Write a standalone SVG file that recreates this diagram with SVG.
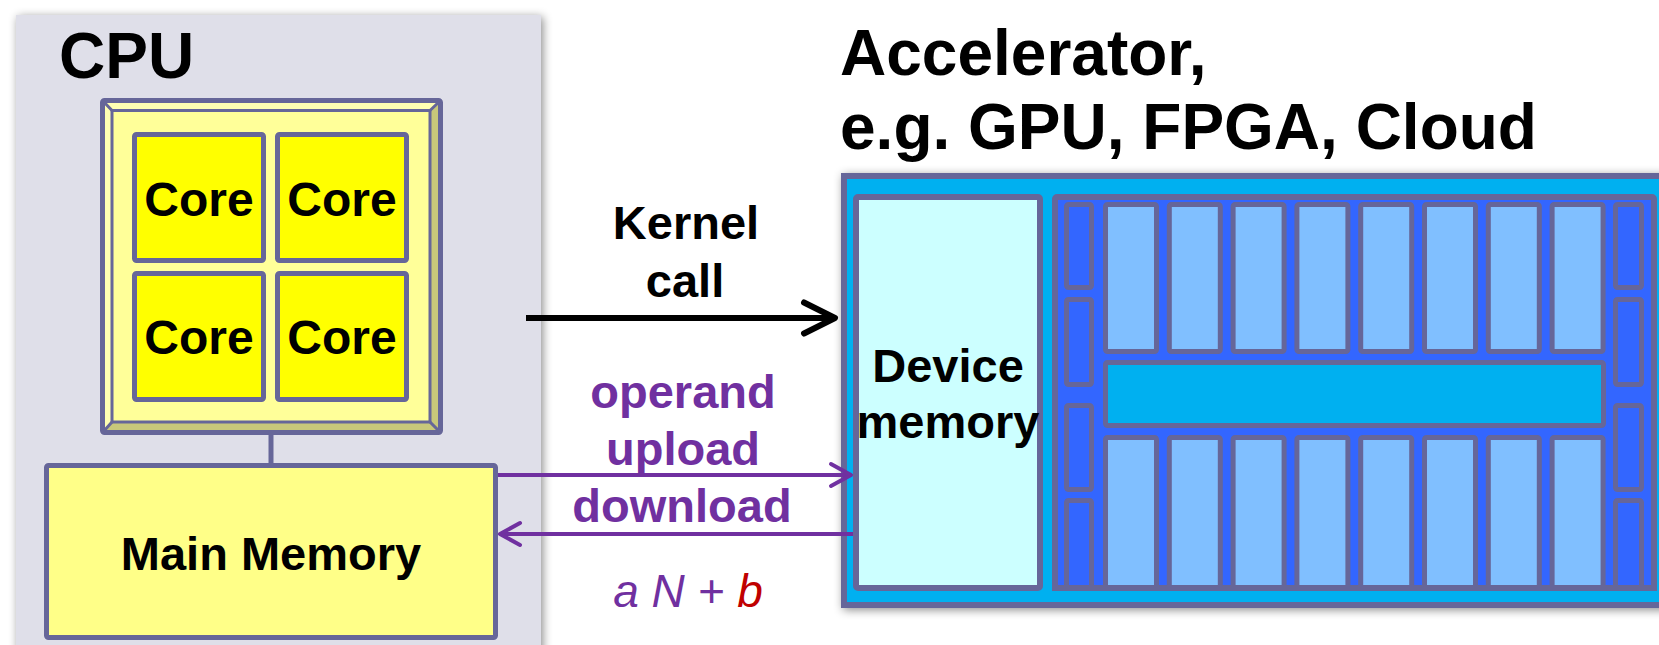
<svg xmlns="http://www.w3.org/2000/svg" width="1659" height="645" viewBox="0 0 1659 645">
<defs>
<filter id="shadow" x="-10%" y="-10%" width="120%" height="120%">
<feDropShadow dx="2" dy="2" stdDeviation="5" flood-color="#000" flood-opacity="0.45"/>
</filter>
<marker id="arrK" markerUnits="userSpaceOnUse" viewBox="-40 -20 44 40" markerWidth="44" markerHeight="40" refX="0" refY="0" orient="auto" overflow="visible">
<path d="M-31,-15.5 L0,0 L-31,15.5" fill="none" stroke="#000" stroke-width="6" stroke-linecap="round" stroke-linejoin="round"/>
</marker>
<marker id="arrP" markerUnits="userSpaceOnUse" viewBox="-30 -15 34 30" markerWidth="34" markerHeight="30" refX="0" refY="0" orient="auto" overflow="visible">
<path d="M-20,-11 L0,0 L-20,11" fill="none" stroke="#7030A0" stroke-width="4" stroke-linecap="round" stroke-linejoin="round"/>
</marker>
</defs>
<style>
text{font-family:"Liberation Sans",Arial,Helvetica,sans-serif;font-weight:bold;fill:#000}
.title{font-size:64px}
.lbl{font-size:47px}
.core{font-size:48px;text-anchor:middle}
.mid{text-anchor:middle}
.purple{fill:#7030A0}
.edge{stroke:#666699}
.corebox{fill:#FFFF00;stroke:#666699;stroke-width:5}
.col{fill:#80BFFF;stroke:#666699;stroke-width:5}
.bar{fill:#3366FF;stroke:#666699;stroke-width:5}
</style>

<g id="cpu">
<rect x="16" y="15" width="525" height="660" fill="#DFDFE9" filter="url(#shadow)"/>
<text class="title" x="59" y="78">CPU</text>
</g>

<g id="chip">
<rect x="102.5" y="100.5" width="338" height="332" fill="#FFFF99" stroke="#666699" stroke-width="5" rx="2"/>
<polygon points="105,103 438,103 430,110.5 112,110.5" fill="#FFFFB3"/>
<polygon points="105,103 112,110.5 112,422 105,430" fill="#FFFFB3"/>
<polygon points="438,103 438,430 430,422 430,110.5" fill="#C8C87A"/>
<polygon points="105,430 438,430 430,422 112,422" fill="#C8C87A"/>
<rect x="112" y="110.5" width="318" height="311.5" fill="#FFFF99" stroke="#666699" stroke-width="3"/>
<path d="M103,101 L112,110.5 M440,101 L430,110.5 M103,432 L112,422 M440,432 L430,422" stroke="#666699" stroke-width="3"/>
</g>

<g id="core1"><rect class="corebox" x="134.5" y="134.5" width="129" height="126" rx="2"/><text class="core" x="199" y="216">Core</text></g>
<g id="core2"><rect class="corebox" x="277.5" y="134.5" width="129" height="126" rx="2"/><text class="core" x="342" y="216">Core</text></g>
<g id="core3"><rect class="corebox" x="134.5" y="273.5" width="129" height="126" rx="2"/><text class="core" x="199" y="354">Core</text></g>
<g id="core4"><rect class="corebox" x="277.5" y="273.5" width="129" height="126" rx="2"/><text class="core" x="342" y="354">Core</text></g>

<g id="main-memory">
<rect x="46.5" y="465.5" width="449" height="172" fill="#FFFF88" stroke="#666699" stroke-width="5" rx="2"/>
<text class="lbl mid" x="271" y="570">Main Memory</text>
</g>

<g id="accelerator">
<rect x="844" y="176" width="840" height="429" fill="#00B0F0" stroke="#666699" stroke-width="6" filter="url(#shadow)"/>
<text class="title" x="840" y="75">Accelerator,</text>
<text class="title" x="840" y="149">e.g. GPU, FPGA, Cloud</text>
</g>

<g id="device-memory">
<rect x="856" y="197" width="184" height="391" fill="#CCFFFF" stroke="#666699" stroke-width="6" rx="2"/>
<text class="lbl mid" x="948" y="382">Device</text>
<text class="lbl mid" x="948" y="438">memory</text>
</g>

<g id="compute-array">
<rect x="1055" y="197" width="599" height="391" fill="#3366FF" stroke="#666699" stroke-width="6" rx="2"/>
<rect class="bar" x="1066.5" y="204.5" width="25" height="83" rx="2"/>
<rect class="bar" x="1066.5" y="299.5" width="25" height="85" rx="2"/>
<rect class="bar" x="1066.5" y="405.5" width="25" height="84" rx="2"/>
<rect class="bar" x="1066.5" y="500.5" width="25" height="87" rx="2"/>
<rect class="bar" x="1615.5" y="204.5" width="26" height="83" rx="2"/>
<rect class="bar" x="1615.5" y="299.5" width="26" height="85" rx="2"/>
<rect class="bar" x="1615.5" y="405.5" width="26" height="84" rx="2"/>
<rect class="bar" x="1615.5" y="500.5" width="26" height="87" rx="2"/>
<rect class="col" x="1105.5" y="204.5" width="51" height="147" rx="2"/>
<rect class="col" x="1169.3" y="204.5" width="51" height="147" rx="2"/>
<rect class="col" x="1233.1" y="204.5" width="51" height="147" rx="2"/>
<rect class="col" x="1296.9" y="204.5" width="51" height="147" rx="2"/>
<rect class="col" x="1360.7" y="204.5" width="51" height="147" rx="2"/>
<rect class="col" x="1424.5" y="204.5" width="51" height="147" rx="2"/>
<rect class="col" x="1488.3" y="204.5" width="51" height="147" rx="2"/>
<rect class="col" x="1552.1" y="204.5" width="51" height="147" rx="2"/>
<rect x="1105.5" y="362.5" width="498" height="63" fill="#00B0F0" stroke="#666699" stroke-width="5" rx="2"/>
<rect class="col" x="1105.5" y="437.5" width="51" height="150" rx="2"/>
<rect class="col" x="1169.3" y="437.5" width="51" height="150" rx="2"/>
<rect class="col" x="1233.1" y="437.5" width="51" height="150" rx="2"/>
<rect class="col" x="1296.9" y="437.5" width="51" height="150" rx="2"/>
<rect class="col" x="1360.7" y="437.5" width="51" height="150" rx="2"/>
<rect class="col" x="1424.5" y="437.5" width="51" height="150" rx="2"/>
<rect class="col" x="1488.3" y="437.5" width="51" height="150" rx="2"/>
<rect class="col" x="1552.1" y="437.5" width="51" height="150" rx="2"/>
<rect x="1052" y="585" width="605" height="6" fill="#666699"/>
</g>

<g id="connectors">
<line x1="271" y1="435" x2="271" y2="464" stroke="#666699" stroke-width="5"/>
<line x1="526" y1="318" x2="835" y2="318" stroke="#000" stroke-width="6" marker-end="url(#arrK)"/>
<line x1="498" y1="475" x2="851" y2="475" stroke="#7030A0" stroke-width="4" marker-end="url(#arrP)"/>
<line x1="853" y1="534" x2="500" y2="534" stroke="#7030A0" stroke-width="4" marker-end="url(#arrP)"/>
<text class="lbl mid" x="686" y="239">Kernel</text>
<text class="lbl mid" x="685" y="297">call</text>
<text class="lbl mid purple" x="683" y="408">operand</text>
<text class="lbl mid purple" x="683" y="465">upload</text>
<text class="lbl mid purple" x="682" y="522">download</text>
<text class="mid" x="688" y="607" style="font-weight:normal;font-style:italic;font-size:46px"><tspan fill="#7030A0">a N + </tspan><tspan fill="#C00000">b</tspan></text>
</g>
</svg>
